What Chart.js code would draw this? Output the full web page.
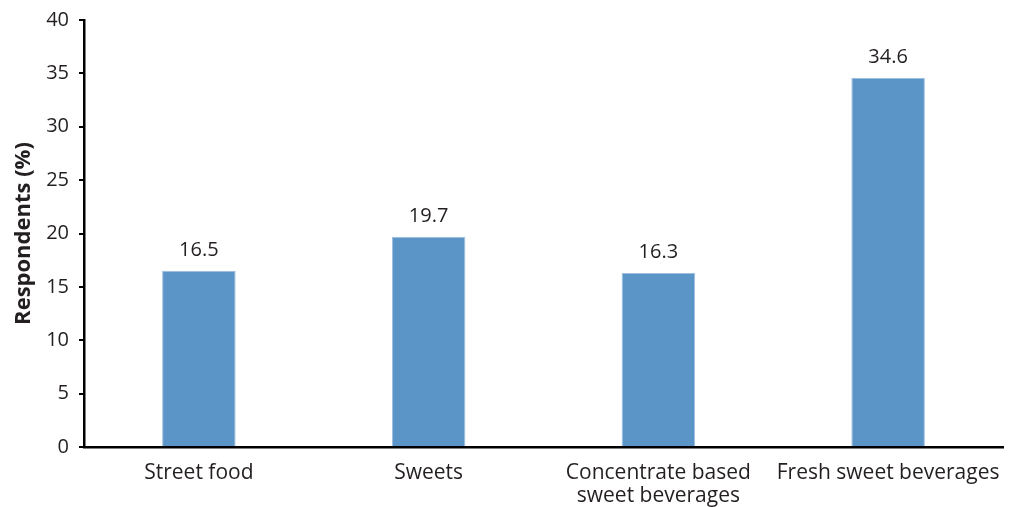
<!DOCTYPE html>
<html>
<head>
<meta charset="utf-8">
<script src="https://cdn.jsdelivr.net/npm/chart.js@4"></script>
<style>
  html, body { margin: 0; padding: 0; background: #fff; }
  #wrap { width: 1009px; height: 507px; }
</style>
</head>
<body>
<div id="wrap"><canvas id="chart"></canvas></div>
<script>
var categories = ["Street food", "Sweets", ["Concentrate based", "sweet beverages"], "Fresh sweet beverages"];
var respondents = [16.5, 19.7, 16.3, 34.6];
var yTicks = [0, 5, 10, 15, 20, 25, 30, 35, 40];

var fontFamily = '"Open Sans", "Noto Sans", sans-serif';

// draws the value above each bar
var valueLabels = {
    id: 'valueLabels',
    afterDatasetsDraw: function(chart) {
        var ctx = chart.ctx;
        var meta = chart.getDatasetMeta(0);
        ctx.save();
        ctx.font = '20px ' + fontFamily;
        ctx.fillStyle = '#231f20';
        ctx.textAlign = 'center';
        ctx.textBaseline = 'alphabetic';
        meta.data.forEach(function(bar, i) {
            ctx.fillText(respondents[i].toFixed(1), bar.x, bar.y - 15);
        });
        ctx.restore();
    }
};

var ctx = document.getElementById("chart");
var myChart = new Chart(ctx, {
    type: 'bar',
    data: {
        labels: categories,
        datasets: [{
            data: respondents,
            backgroundColor: '#5b95c7',
            borderColor: '#9dbfe0',
            borderWidth: 1,
            barPercentage: 0.32,
            categoryPercentage: 1.0
        }]
    },
    plugins: [valueLabels],
    options: {
        responsive: true,
        maintainAspectRatio: false,
        animation: false,
        layout: { padding: { top: 20, right: 6, left: 11, bottom: 0 } },
        plugins: {
            legend: { display: false },
            tooltip: { enabled: false }
        },
        scales: {
            x: {
                grid: { display: false },
                border: { display: true, color: '#000', width: 2.5 },
                ticks: {
                    color: '#231f20',
                    font: { family: fontFamily, size: 21, lineHeight: 1.12 },
                    padding: 6,
                    maxRotation: 0,
                    autoSkip: false
                },
                afterFit: function(scale) { scale.height = 60; }
            },
            y: {
                min: 0,
                max: 40,
                afterBuildTicks: function(scale) {
                    scale.ticks = yTicks.map(function(v) { return { value: v }; });
                },
                grid: { drawOnChartArea: false, drawTicks: true, tickLength: 5, color: '#000', lineWidth: 2 },
                border: { display: true, color: '#000', width: 2.5 },
                ticks: {
                    color: '#231f20',
                    font: { family: fontFamily, size: 20, lineHeight: 1.0 },
                    padding: 10
                },
                title: {
                    display: true,
                    text: 'Respondents (%)',
                    color: '#231f20',
                    font: { family: fontFamily, size: 22, weight: 'bold' },
                    padding: 0
                },
                afterFit: function(scale) {
                    scale.width = 73;
                    scale.paddingTop = 0;
                    scale.paddingBottom = 0;
                }
            }
        }
    }
});
</script>
</body>
</html>
